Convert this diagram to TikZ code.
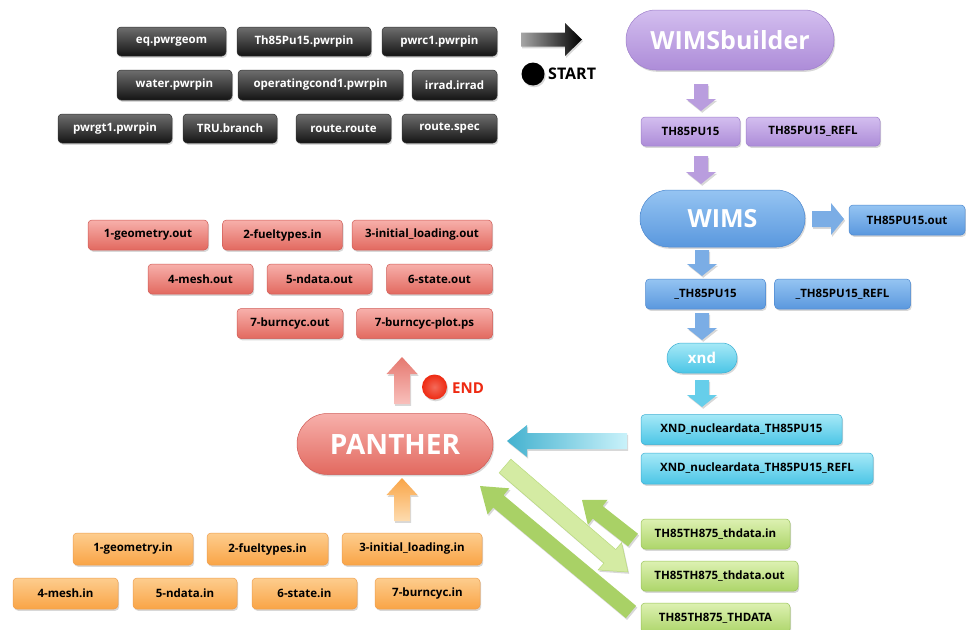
\documentclass[tikz,border=0pt]{standalone}
\usepackage{fontspec}
\setmainfont{Open Sans}
\usetikzlibrary{calc,shadows}
\definecolor{kTop}{HTML}{6E6E6E}\definecolor{kBot}{HTML}{141414}
\definecolor{pTop}{HTML}{D3BEEF}\definecolor{pBot}{HTML}{AD8CD8}\definecolor{pDr}{HTML}{9E7FCB}
\definecolor{bTop}{HTML}{95C4F2}\definecolor{bBot}{HTML}{5A98DE}\definecolor{bDr}{HTML}{4D88CF}
\definecolor{cTop}{HTML}{A6E9F7}\definecolor{cBot}{HTML}{4BC5E6}\definecolor{cDr}{HTML}{3DAFD3}
\definecolor{rTop}{HTML}{F7B0AB}\definecolor{rBot}{HTML}{E2695F}\definecolor{rDr}{HTML}{D05A55}
\definecolor{oTop}{HTML}{FDCD8E}\definecolor{oBot}{HTML}{F9A446}\definecolor{oDr}{HTML}{EE9E4E}
\definecolor{gTop}{HTML}{DDF1B2}\definecolor{gBot}{HTML}{ADD56A}\definecolor{gDr}{HTML}{98C257}
\definecolor{gPale}{HTML}{D4EBA3}\definecolor{gMid}{HTML}{A9D166}
\definecolor{endred}{HTML}{EE2A12}
% fat block arrow: [style]{from}{to}{half body}{half head}{head length}
\newcommand{\fatarrow}[6][]{%
  \coordinate (fahd) at ($(#3)!#6!(#2)$);
  \path[#1] ($(#2)!#4!90:(#3)$) -- ($(fahd)!#4!90:(#3)$) -- ($(fahd)!#5!90:(#3)$) -- (#3)
    -- ($(fahd)!#5!-90:(#3)$) -- ($(fahd)!#4!-90:(#3)$) -- ($(#2)!#4!-90:(#3)$) -- cycle;}
\begin{document}
\begin{tikzpicture}[x=1pt,y=-1pt,
  shd/.style={drop shadow={shadow xshift=1.2pt,shadow yshift=-1.8pt,opacity=0.3}},
  base/.style={shd,rounded corners=4pt,inner sep=0pt,minimum height=30pt,line width=0.5pt,
    font=\bfseries\fontsize{11.5}{13}\selectfont},
  blk/.style={base,top color=kTop,bottom color=kBot,draw=black!80,text=white},
  pur/.style={base,top color=pTop,bottom color=pBot,draw=pDr},
  blu/.style={base,top color=bTop,bottom color=bBot,draw=bDr},
  cya/.style={base,top color=cTop,bottom color=cBot,draw=cDr},
  red/.style={base,top color=rTop,bottom color=rBot,draw=rDr},
  ora/.style={base,top color=oTop,bottom color=oBot,draw=oDr},
  grn/.style={base,top color=gTop,bottom color=gBot,draw=gDr},
  pill/.style={text=white},
  arr/.style={shd},
]
\useasboundingbox (0,0) rectangle (966,629);
\fill[white] (0,0) rectangle (966,629);

% black input files
\node[blk,minimum width=109pt,minimum height=29pt] (k1) at (171.5,41.5) {eq.pwrgeom};
\node[blk,minimum width=134pt,minimum height=29pt] (k2) at (304,41.5) {Th85Pu15.pwrpin};
\node[blk,minimum width=115pt,minimum height=29pt] (k3) at (439.5,41.5) {pwrc1.pwrpin};
\node[blk,minimum width=115pt] (k4) at (174.5,85) {water.pwrpin};
\node[blk,minimum width=165pt] (k5) at (320.5,85) {operatingcond1.pwrpin};
\node[blk,minimum width=85pt] (k6) at (454.5,85) {irrad.irrad};
\node[blk,minimum width=114pt,minimum height=29pt] (k7) at (115,128.5) {pwrgt1.pwrpin};
\node[blk,minimum width=94pt,minimum height=29pt] (k8) at (230,128.5) {TRU.branch};
\node[blk,minimum width=95pt,minimum height=29pt] (k9) at (343.5,128.5) {route.route};
\node[blk,minimum width=95pt,minimum height=29pt] (k10) at (449.5,128.5) {route.spec};

% start
\coordinate (ka) at (521,39.5); \coordinate (kb) at (582,39.5);
\fatarrow[arr,left color=black!35,right color=black]{ka}{kb}{7pt}{16.5pt}{17pt}
\node[circle,fill=black,minimum size=23pt,inner sep=0pt,shd] (st) at (533,74) {};
\node[anchor=west,inner sep=0pt,font=\bfseries\fontsize{16}{18}\selectfont] (stt) at (548,74) {START};

% WIMSbuilder
\node[pur,pill,rounded corners=29.9pt,minimum width=208pt,minimum height=60pt,
  font=\bfseries\fontsize{25}{28}\selectfont] (wb) at (730,40) {WIMSbuilder};
\node[pur,minimum width=99pt,minimum height=29pt] (p1) at (690.5,131.5) {TH85PU15};
\node[pur,minimum width=134pt,minimum height=29pt] (p2) at (813,131.5) {TH85PU15\_REFL};
\coordinate (pa1) at (701,84); \coordinate (pb1) at (701,111);
\coordinate (pa2) at (701,156); \coordinate (pb2) at (701,184);
\fatarrow[arr,fill=pBot!85!white]{pa1}{pb1}{7pt}{15pt}{12pt}
\fatarrow[arr,fill=pBot!85!white]{pa2}{pb2}{7pt}{15pt}{12pt}

% WIMS
\node[blu,pill,rounded corners=28.4pt,minimum width=165pt,minimum height=57pt,
  font=\bfseries\fontsize{25}{28}\selectfont] (wims) at (722.5,218.5) {WIMS};
\node[blu,minimum width=116pt] (bo) at (907,220) {TH85PU15.out};
\node[blu,minimum width=120pt] (b1) at (705.5,294) {\_TH85PU15};
\node[blu,minimum width=136pt] (b2) at (842.5,294) {\_TH85PU15\_REFL};
\coordinate (ba0) at (812,219); \coordinate (bb0) at (844,219);
\coordinate (ba1) at (702,250); \coordinate (bb1) at (702,276);
\coordinate (ba2) at (702,313); \coordinate (bb2) at (702,340);
\fatarrow[arr,fill=bBot!80!white]{ba0}{bb0}{8pt}{16pt}{13pt}
\fatarrow[arr,fill=bBot!80!white]{ba1}{bb1}{7pt}{15pt}{12pt}
\fatarrow[arr,fill=bBot!80!white]{ba2}{bb2}{7pt}{15pt}{12pt}

% xnd
\node[cya,pill,rounded corners=14.9pt,minimum width=70pt,minimum height=30pt,
  font=\bfseries\fontsize{15}{18}\selectfont] (xnd) at (702,358) {xnd};
\coordinate (ca1) at (702,380); \coordinate (cb1) at (702,407);
\fatarrow[arr,fill=cBot!85!white]{ca1}{cb1}{7pt}{15pt}{12pt}
\node[cya,minimum width=201pt] (x1) at (741.5,429.5) {XND\_nucleardata\_TH85PU15};
\node[cya,minimum width=232pt,minimum height=31pt] (x2) at (757,468.5) {XND\_nucleardata\_TH85PU15\_REFL};
\coordinate (ca2) at (627,441); \coordinate (cb2) at (507,441);
\fatarrow[arr,left color=cBot!90!black,right color=cTop!60!white]{ca2}{cb2}{8pt}{16pt}{20pt}

% PANTHER
\node[red,pill,rounded corners=30.4pt,minimum width=196pt,minimum height=61pt,
  font=\bfseries\fontsize{28}{32}\selectfont] (pan) at (395,444) {PANTHER};
\coordinate (ra) at (402,404); \coordinate (rb) at (402,357);
\fatarrow[arr,top color=rBot!90!white,bottom color=rTop!80!white]{ra}{rb}{8pt}{15.5pt}{17pt}
\node[circle,inner color=endred!70!white,outer color=endred,minimum size=25pt,inner sep=0pt,shd] (en) at (434.5,387) {};
\node[anchor=west,inner sep=0pt,text=endred,font=\bfseries\fontsize{15}{17}\selectfont] (ent) at (452,388) {END};

% outputs
\node[red,minimum width=120pt] (r1) at (148,235) {1-geometry.out};
\node[red,minimum width=120pt] (r2) at (282.5,235) {2-fueltypes.in};
\node[red,minimum width=140pt] (r3) at (422,235) {3-initial\_loading.out};
\node[red,minimum width=105pt] (r4) at (200.5,279) {4-mesh.out};
\node[red,minimum width=105pt] (r5) at (319.5,279) {5-ndata.out};
\node[red,minimum width=106pt] (r6) at (439.5,279) {6-state.out};
\node[red,minimum width=106pt] (r7) at (290,323.5) {7-burncyc.out};
\node[red,minimum width=136pt] (r8) at (424.5,323.5) {7-burncyc-plot.ps};

% inputs
\coordinate (oa) at (402,521); \coordinate (ob) at (402,478);
\fatarrow[arr,top color=oBot,bottom color=oTop!70!white]{oa}{ob}{8pt}{15.5pt}{17pt}
\node[ora,minimum width=120pt,minimum height=32pt] (o1) at (133,549) {1-geometry.in};
\node[ora,minimum width=121pt,minimum height=32pt] (o2) at (267.5,549) {2-fueltypes.in};
\node[ora,minimum width=140pt,minimum height=32pt] (o3) at (412,549) {3-initial\_loading.in};
\node[ora,minimum width=105pt,minimum height=31pt] (o4) at (65.5,593.5) {4-mesh.in};
\node[ora,minimum width=104pt,minimum height=31pt] (o5) at (185,593.5) {5-ndata.in};
\node[ora,minimum width=105pt,minimum height=31pt] (o6) at (304.5,593.5) {6-state.in};
\node[ora,minimum width=105pt,minimum height=31pt] (o7) at (427.5,593.5) {7-burncyc.in};

% thermal hydraulics
\node[grn,minimum width=149pt] (g1) at (715.5,534) {TH85TH875\_thdata.in};
\node[grn,minimum width=157pt] (g2) at (719.5,576) {TH85TH875\_thdata.out};
\node[grn,minimum width=149pt] (g3) at (715.5,618) {TH85TH875\_THDATA};
\coordinate (ga1) at (633,540); \coordinate (gb1) at (582,500);
\coordinate (ga2) at (505,466); \coordinate (gb2) at (628,572);
\coordinate (ga3) at (631,612); \coordinate (gb3) at (480,486);
\fatarrow[arr,fill=gPale,draw=gMid!60!gPale,line width=0.5pt]{ga2}{gb2}{9pt}{18pt}{24pt}
\fatarrow[arr,fill=gMid]{ga1}{gb1}{8pt}{16pt}{20pt}
\fatarrow[arr,fill=gMid]{ga3}{gb3}{8pt}{17pt}{24pt}
\end{tikzpicture}
\end{document}
